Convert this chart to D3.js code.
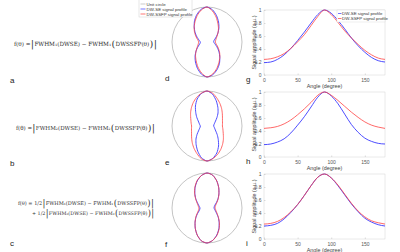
<!DOCTYPE html>
<html>
<head>
<meta charset="utf-8">
<script src="https://cdn.jsdelivr.net/npm/d3@7"></script>
<style>
  body { margin: 0; background: #fff; }
  svg { display: block; }
  .tick-label { font-family: "Liberation Sans", Arial, sans-serif; font-size: 5px; fill: #555; }
  .axis-title { font-family: "Liberation Sans", Arial, sans-serif; font-size: 5.4px; fill: #444; }
  .panel-label { font-family: "Liberation Sans", Arial, sans-serif; font-size: 8px; fill: #222; }
  .formula { font-family: "DejaVu Serif", "Liberation Serif", serif; fill: #333; }
  .legend-text { font-family: "Liberation Sans", Arial, sans-serif; font-size: 4.4px; fill: #333; }
</style>
</head>
<body>
<div id="chart"></div>
<script>
// angle samples (degree)
const angles = [0, 10, 20, 30, 40, 50, 60, 70, 80, 90, 100, 110, 120, 130, 140, 150, 160, 170, 180];

// panel g (FWHM1)
const seG    = [0.19, 0.20, 0.24, 0.31, 0.41, 0.53, 0.66, 0.80, 0.93, 1.00, 0.95, 0.84, 0.71, 0.57, 0.45, 0.35, 0.27, 0.22, 0.20];
const ssfpG  = [0.24, 0.25, 0.28, 0.33, 0.41, 0.51, 0.62, 0.76, 0.90, 1.00, 0.93, 0.81, 0.68, 0.57, 0.47, 0.38, 0.31, 0.26, 0.24];
// panel h (FWHM2)
const seH    = [0.19, 0.20, 0.23, 0.28, 0.37, 0.49, 0.62, 0.77, 0.92, 1.00, 0.94, 0.82, 0.66, 0.50, 0.38, 0.29, 0.24, 0.21, 0.20];
const ssfpH  = [0.44, 0.45, 0.47, 0.51, 0.57, 0.65, 0.74, 0.84, 0.95, 1.00, 0.95, 0.87, 0.78, 0.69, 0.61, 0.54, 0.49, 0.46, 0.44];
// panel i (combined)
const seI    = [0.20, 0.21, 0.24, 0.31, 0.41, 0.53, 0.67, 0.82, 0.95, 1.00, 0.94, 0.82, 0.68, 0.54, 0.42, 0.32, 0.26, 0.22, 0.20];
const ssfpI  = [0.23, 0.24, 0.27, 0.33, 0.42, 0.53, 0.67, 0.82, 0.95, 1.00, 0.94, 0.83, 0.69, 0.55, 0.43, 0.34, 0.28, 0.25, 0.23];

const xTicks = [0, 50, 100, 150];
const yTicks = [0, 0.2, 0.4, 0.6, 0.8, 1];
const yTickLabels = ['0', '0.2', '0.4', '0.6', '0.8', '1'];

const seLabel = 'DW-SE signal profile';
const ssfpLabel = 'DW-SSFP signal profile';
const circleLabel = 'Unit circle';

const formulaLabels = ['a', 'b', 'c'];
const polarLabels = ['d', 'e', 'f'];
const chartLabels = ['g', 'h', 'i'];

const seColor = '#3a3aff';
const ssfpColor = '#ff3a3a';

const W = 400, H = 252;
const svg = d3.select('#chart').append('svg')
    .attr('width', W)
    .attr('height', H);

const rows = [
    { se: seG, ssfp: ssfpG, top: 10, cy: 42, fy: [46], labelY: 83 },
    { se: seH, ssfp: ssfpH, top: 92, cy: 126, fy: [130], labelY: 166 },
    { se: seI, ssfp: ssfpI, top: 174, cy: 208, fy: [205, 215], labelY: 246 }
];

// ---- formulas (left column) ----
// each piece is its own text element, laid out left to right and scaled to fit
function addFormula(y, parts, x0, len) {
    const base = 6.4, big = 10;
    const g = svg.append('g');
    const nodes = parts.map(p => g.append('text')
        .attr('class', 'formula')
        .attr('y', y + (p.big ? 1 : 0))
        .style('font-size', (p.big ? big : base) + 'px')
        .text(p.t));
    const widths = nodes.map(n => n.node().getComputedTextLength());
    const total = d3.sum(widths);
    const k = len / total;
    let cur = x0;
    nodes.forEach((n, i) => {
        const p = parts[i];
        n.style('font-size', ((p.big ? big : base) * (p.big ? Math.min(1, k * 1.1) : k)) + 'px');
        const w = n.node().getComputedTextLength();
        n.attr('x', cur);
        cur += w + 0.3;
    });
}

const absPart = (n) => [
    { t: '|', big: true },
    { t: 'FWHM' + n + '(DWSE) \u2212 FWHM' + n },
    { t: '(', big: true },
    { t: 'DWSSFP(\u03b8)' },
    { t: ')', big: true },
    { t: '|', big: true }
];

addFormula(rows[0].fy[0], [{ t: 'f(\u03b8) = ' }, ...absPart('\u2081')], 14, 140);
addFormula(rows[1].fy[0], [{ t: 'f(\u03b8) = ' }, ...absPart('\u2082')], 16, 136);
addFormula(rows[2].fy[0], [{ t: 'f(\u03b8) = 1/2 ' }, ...absPart('\u2081')], 18, 133);
addFormula(rows[2].fy[1], [{ t: '+ 1/2 ' }, ...absPart('\u2082')], 32, 119);

rows.forEach((r, i) => {
    svg.append('text')
        .attr('class', 'panel-label')
        .attr('x', 10)
        .attr('y', r.labelY)
        .text(formulaLabels[i]);
});

// ---- polar plots (middle column) ----
const R = 35;
const cx = 207;
const rScale = d3.scaleLinear().domain([0, 1]).range([0, R]);

function polarPoints(vals) {
    const pts = [];
    for (let k = 0; k < 2; k++) {
        angles.forEach((a, j) => {
            if (j === angles.length - 1) return;
            pts.push({ a: a + 180 * k, v: vals[j] });
        });
    }
    return pts;
}

const radial = d3.lineRadial()
    .angle(d => Math.PI / 2 - d.a * Math.PI / 180)
    .radius(d => rScale(d.v))
    .curve(d3.curveCardinalClosed.tension(0.3));

rows.forEach((r, i) => {
    const g = svg.append('g').attr('transform', `translate(${cx},${r.cy})`);
    g.append('circle')
        .attr('r', rScale(1))
        .attr('fill', 'none')
        .attr('stroke', '#b5b5b5')
        .attr('stroke-width', 0.8);
    g.append('path')
        .attr('d', radial(polarPoints(r.se)))
        .attr('fill', 'none')
        .attr('stroke', seColor)
        .attr('stroke-width', 0.9);
    g.append('path')
        .attr('d', radial(polarPoints(r.ssfp)))
        .attr('fill', 'none')
        .attr('stroke', ssfpColor)
        .attr('stroke-opacity', 0.85)
        .attr('stroke-width', 0.9);

    svg.append('text')
        .attr('class', 'panel-label')
        .attr('x', 165)
        .attr('y', r.cy + 39)
        .text(polarLabels[i]);
});

// legend for polar plot d
const pLeg = svg.append('g').attr('transform', 'translate(139,0)');
pLeg.append('rect')
    .attr('x', 0).attr('y', -2).attr('width', 53).attr('height', 19)
    .attr('fill', '#fff').attr('stroke', '#d0d0d0').attr('stroke-width', 0.5);
[[circleLabel, '#b5b5b5'], [seLabel, seColor], [ssfpLabel, ssfpColor]].forEach((d, i) => {
    const y = 4 + i * 5;
    pLeg.append('line')
        .attr('x1', 1.5).attr('x2', 6.5).attr('y1', y).attr('y2', y)
        .attr('stroke', d[1]).attr('stroke-width', 0.7);
    pLeg.append('text')
        .attr('class', 'legend-text')
        .attr('x', 7.5).attr('y', y + 1.5)
        .text(d[0]);
});

// ---- line charts (right column) ----
const x = d3.scaleLinear().domain([0, 180]).range([264, 385]);
const plotH = 65;

rows.forEach((r, i) => {
    const y = d3.scaleLinear().domain([0, 1]).range([r.top + plotH, r.top]);
    const g = svg.append('g');

    g.append('rect')
        .attr('x', x(0)).attr('y', y(1))
        .attr('width', x(180) - x(0)).attr('height', y(0) - y(1))
        .attr('fill', 'none')
        .attr('stroke', '#d4d4d4')
        .attr('stroke-width', 0.5);

    // inward ticks
    g.append('g')
        .attr('transform', `translate(0,${y(0)})`)
        .call(d3.axisBottom(x).tickValues(xTicks).tickSize(-1.5).tickPadding(3.5).tickFormat(d => d))
        .call(s => s.select('.domain').remove())
        .call(s => s.selectAll('line').attr('stroke', '#bbb').attr('stroke-width', 0.5))
        .call(s => s.selectAll('text').attr('class', 'tick-label').attr('fill', null).attr('font-size', null).attr('font-family', null));

    g.append('g')
        .attr('transform', `translate(${x(0)},0)`)
        .call(d3.axisLeft(y).tickValues(yTicks).tickSize(-1.5).tickPadding(2.5).tickFormat((d, k) => yTickLabels[k]))
        .call(s => s.select('.domain').remove())
        .call(s => s.selectAll('line').attr('stroke', '#bbb').attr('stroke-width', 0.5))
        .call(s => s.selectAll('text').attr('class', 'tick-label').attr('fill', null).attr('font-size', null).attr('font-family', null));

    g.append('text')
        .attr('class', 'axis-title')
        .attr('x', (x(0) + x(180)) / 2)
        .attr('y', y(0) + 13)
        .attr('text-anchor', 'middle')
        .text('Angle (degree)');

    g.append('text')
        .attr('class', 'axis-title')
        .attr('transform', `translate(255.5,${(y(0) + y(1)) / 2}) rotate(-90)`)
        .attr('text-anchor', 'middle')
        .text('Signal amplitude (a.u.)');

    const line = d3.line()
        .x((d, k) => x(angles[k]))
        .y(d => y(d))
        .curve(d3.curveMonotoneX);

    g.append('path')
        .datum(r.se)
        .attr('d', line)
        .attr('fill', 'none')
        .attr('stroke', seColor)
        .attr('stroke-width', 0.9);
    g.append('path')
        .datum(r.ssfp)
        .attr('d', line)
        .attr('fill', 'none')
        .attr('stroke', ssfpColor)
        .attr('stroke-opacity', 0.85)
        .attr('stroke-width', 0.9);

    svg.append('text')
        .attr('class', 'panel-label')
        .attr('x', 246)
        .attr('y', y(0) + 7)
        .text(chartLabels[i]);

    if (i === 0) {
        const leg = g.append('g').attr('transform', `translate(${x(180) - 48},${y(1)})`);
        leg.append('rect')
            .attr('x', 0).attr('y', 0).attr('width', 48).attr('height', 12)
            .attr('fill', '#fff').attr('stroke', '#d4d4d4').attr('stroke-width', 0.4);
        [[seLabel, seColor], [ssfpLabel, ssfpColor]].forEach((d, k) => {
            const ly = 3.5 + k * 5;
            leg.append('line')
                .attr('x1', 1).attr('x2', 4.5).attr('y1', ly).attr('y2', ly)
                .attr('stroke', d[1]).attr('stroke-width', 0.7);
            leg.append('text')
                .attr('class', 'legend-text')
                .attr('x', 5).attr('y', ly + 1.5)
                .text(d[0]);
        });
    }
});
</script>
</body>
</html>
